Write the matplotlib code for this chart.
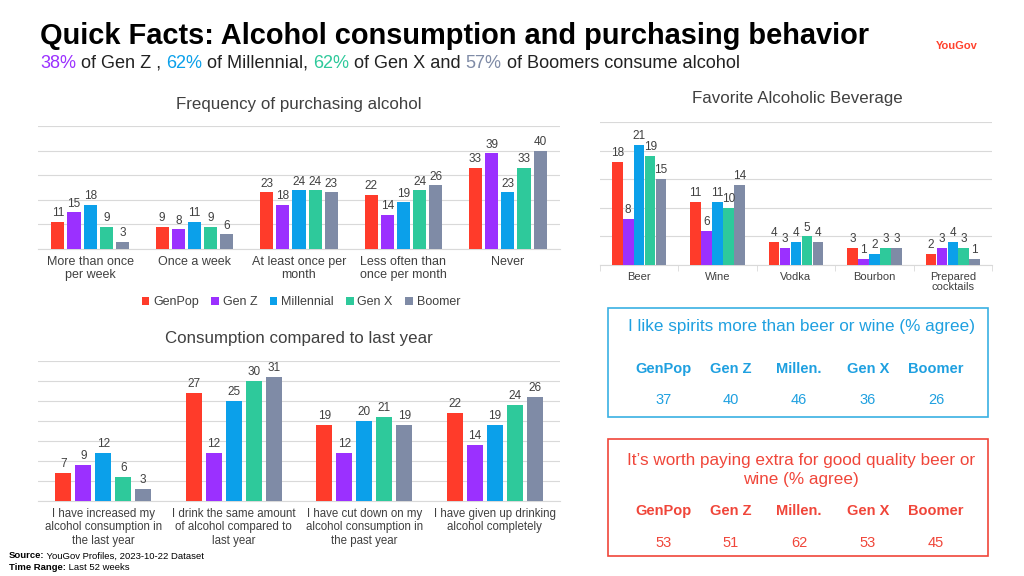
import matplotlib
matplotlib.use("Agg")
import matplotlib.pyplot as plt
from matplotlib.patches import Patch, Rectangle
import numpy as np

plt.rcParams['font.family'] = ['Liberation Sans', 'DejaVu Sans']

W, H = 1024, 576

series = ["GenPop", "Gen Z", "Millennial", "Gen X", "Boomer"]
colors = ["#FF3B2A", "#9B30FF", "#0BA0EA", "#2EC99B", "#7F8BA6"]

freq_cats = ["More than once\nper week", "Once a week", "At least once per\nmonth",
             "Less often than\nonce per month", "Never"]
freq_vals = {
    "GenPop":     [11, 9, 23, 22, 33],
    "Gen Z":      [15, 8, 18, 14, 39],
    "Millennial": [18, 11, 24, 19, 23],
    "Gen X":      [9, 9, 24, 24, 33],
    "Boomer":     [3, 6, 23, 26, 40],
}

bev_cats = ["Beer", "Wine", "Vodka", "Bourbon", "Prepared\ncocktails"]
bev_vals = {
    "GenPop":     [18, 11, 4, 3, 2],
    "Gen Z":      [8, 6, 3, 1, 3],
    "Millennial": [21, 11, 4, 2, 4],
    "Gen X":      [19, 10, 5, 3, 3],
    "Boomer":     [15, 14, 4, 3, 1],
}

cons_cats = ["I have increased my\nalcohol consumption in\nthe last year",
             "I drink the same amount\nof alcohol compared to\nlast year",
             "I have cut down on my\nalcohol consumption in\nthe past year",
             "I have given up drinking\nalcohol completely"]
cons_vals = {
    "GenPop":     [7, 27, 19, 22],
    "Gen Z":      [9, 12, 12, 14],
    "Millennial": [12, 25, 20, 19],
    "Gen X":      [6, 30, 21, 24],
    "Boomer":     [3, 31, 19, 26],
}

box_headers = ["GenPop", "Gen Z", "Millen.", "Gen X", "Boomer"]
spirits_vals = [37, 40, 46, 36, 26]
quality_vals = [53, 51, 62, 53, 45]

subtitle_parts = [("38%", "#9B30FF"), (" of Gen Z , ", "#222222"),
                  ("62%", "#0BA0EA"), (" of Millennial, ", "#222222"),
                  ("62%", "#2EC99B"), (" of Gen X and ", "#222222"),
                  ("57%", "#7F8BA6"), (" of Boomers consume alcohol", "#222222")]

fig = plt.figure(figsize=(W / 100, H / 100), dpi=100)
fig.patch.set_facecolor("white")


def rect(l, t, r, b):
    return [l / W, 1 - b / H, (r - l) / W, (b - t) / H]


def fx(x):
    return x / W


def fy(y):
    return 1 - y / H


def grouped(ax, cats, vals, ymax, step, width, grid_step, ticks=False, labsize=8.5,
            catsize=9, linesp=1.1):
    n = len(series)
    x = np.arange(len(cats))
    for i, s in enumerate(series):
        pos = x + (i - (n - 1) / 2) * step
        ax.bar(pos, vals[s], width=width, color=colors[i], zorder=3)
        for xb, v in zip(pos, vals[s]):
            ax.text(xb, v + ymax * 0.02, str(v), ha="center", va="bottom",
                    fontsize=labsize, color="#404040", zorder=4)
    ax.set_ylim(0, ymax)
    ax.set_xlim(-0.5, len(cats) - 0.5)
    ax.set_yticks(np.arange(0, ymax + 0.1, grid_step))
    ax.yaxis.grid(True, color="#d9d9d9", linewidth=0.8, zorder=0)
    ax.set_yticklabels([])
    ax.tick_params(axis="y", length=0)
    for sp in ["top", "right", "left"]:
        ax.spines[sp].set_visible(False)
    ax.spines["bottom"].set_color("#d9d9d9")
    ax.set_xticks(x)
    ax.set_xticklabels(cats, fontsize=catsize, color="#404040", linespacing=linesp)
    ax.tick_params(axis="x", length=0, pad=5)
    if ticks:
        ax.set_xticks(np.arange(-0.5, len(cats)), minor=True)
        ax.tick_params(axis="x", which="minor", length=4, color="#d9d9d9")
    ax.set_facecolor("none")


renderer = fig.canvas.get_renderer()

# Title
fig.text(fx(40), fy(36), "Quick Facts: Alcohol consumption and purchasing behavior",
         fontsize=20.9, fontweight="bold", color="black", va="center", ha="left")
fig.text(fx(957), fy(46), "YouGov", fontsize=8, fontweight="bold", color="#FF412C",
         va="center", ha="center")

# Subtitle multicolor
xcur = 40
for txt, col in subtitle_parts:
    t = fig.text(fx(xcur), fy(63), txt, fontsize=13.1, color=col, va="center", ha="left")
    bb = t.get_window_extent(renderer=renderer)
    xcur += bb.width

# Top-left chart
ax1 = fig.add_axes(rect(38, 126, 560, 249))
grouped(ax1, freq_cats, freq_vals, 50, 0.155, 0.125, 10)
fig.text(fx(299), fy(104), "Frequency of purchasing alcohol", fontsize=12.2,
         color="#404040", ha="center", va="center")
handles = [Patch(facecolor=c, label=s) for s, c in zip(series, colors)]
fig.legend(handles=handles, loc="center", bbox_to_anchor=(fx(301), fy(302)), ncol=5,
           frameon=False, fontsize=9, handlelength=0.6, handleheight=0.6,
           handletextpad=0.3, columnspacing=1.0, labelcolor="#404040")

# Top-right chart
ax2 = fig.add_axes(rect(600, 122, 992, 265))
grouped(ax2, bev_cats, bev_vals, 25, 0.14, 0.135, 5, ticks=True, labsize=8.5, catsize=8,
        linesp=1.05)
fig.text(fx(797), fy(99), "Favorite Alcoholic Beverage", fontsize=12.2,
         color="#404040", ha="center", va="center")

# Bottom-left chart
ax3 = fig.add_axes(rect(38, 361, 560, 501))
grouped(ax3, cons_cats, cons_vals, 35, 0.153, 0.12, 5, catsize=8.3, linesp=1.15)
fig.text(fx(299), fy(339), "Consumption compared to last year", fontsize=12.2,
         color="#404040", ha="center", va="center")

# Boxes
colx = [664, 731, 799, 868, 936]
blue = "#1FA0E0"
red = "#F0463A"
fig.patches.append(Rectangle((fx(608), fy(417)), fx(988) - fx(608), fy(308) - fy(417),
                             transform=fig.transFigure, fill=False, edgecolor="#3AB0E3",
                             linewidth=1.2))
fig.text(fx(801), fy(327), "I like spirits more than beer or wine (% agree)", fontsize=12.3,
         color=blue, ha="center", va="center")
for x, h, v in zip(colx, box_headers, spirits_vals):
    fig.text(fx(x), fy(369), h, fontsize=10.5, fontweight="bold", color=blue, ha="center", va="center")
    fig.text(fx(x), fy(400), str(v), fontsize=10.5, color=blue, ha="center", va="center")

fig.patches.append(Rectangle((fx(608), fy(556)), fx(988) - fx(608), fy(439) - fy(556),
                             transform=fig.transFigure, fill=False, edgecolor="#F0463A",
                             linewidth=1.2))
fig.text(fx(801), fy(470), "It\u2019s worth paying extra for good quality beer or\nwine (% agree)",
         fontsize=12.3, color=red, ha="center", va="center", linespacing=1.3)
for x, h, v in zip(colx, box_headers, quality_vals):
    fig.text(fx(x), fy(511), h, fontsize=10.5, fontweight="bold", color=red, ha="center", va="center")
    fig.text(fx(x), fy(543), str(v), fontsize=10.5, color=red, ha="center", va="center")

# Footer
for y, bold, rest in [(556, "Source:", " YouGov Profiles, 2023-10-22 Dataset"),
                      (568, "Time Range:", " Last 52 weeks")]:
    t = fig.text(fx(9), fy(y), bold, fontsize=6.8, fontweight="bold", color="black",
                 ha="left", va="center")
    bb = t.get_window_extent(renderer=renderer)
    fig.text(fx(9 + bb.width), fy(y), rest, fontsize=6.8, color="black", ha="left", va="center")

fig.savefig("out.png", dpi=100)
